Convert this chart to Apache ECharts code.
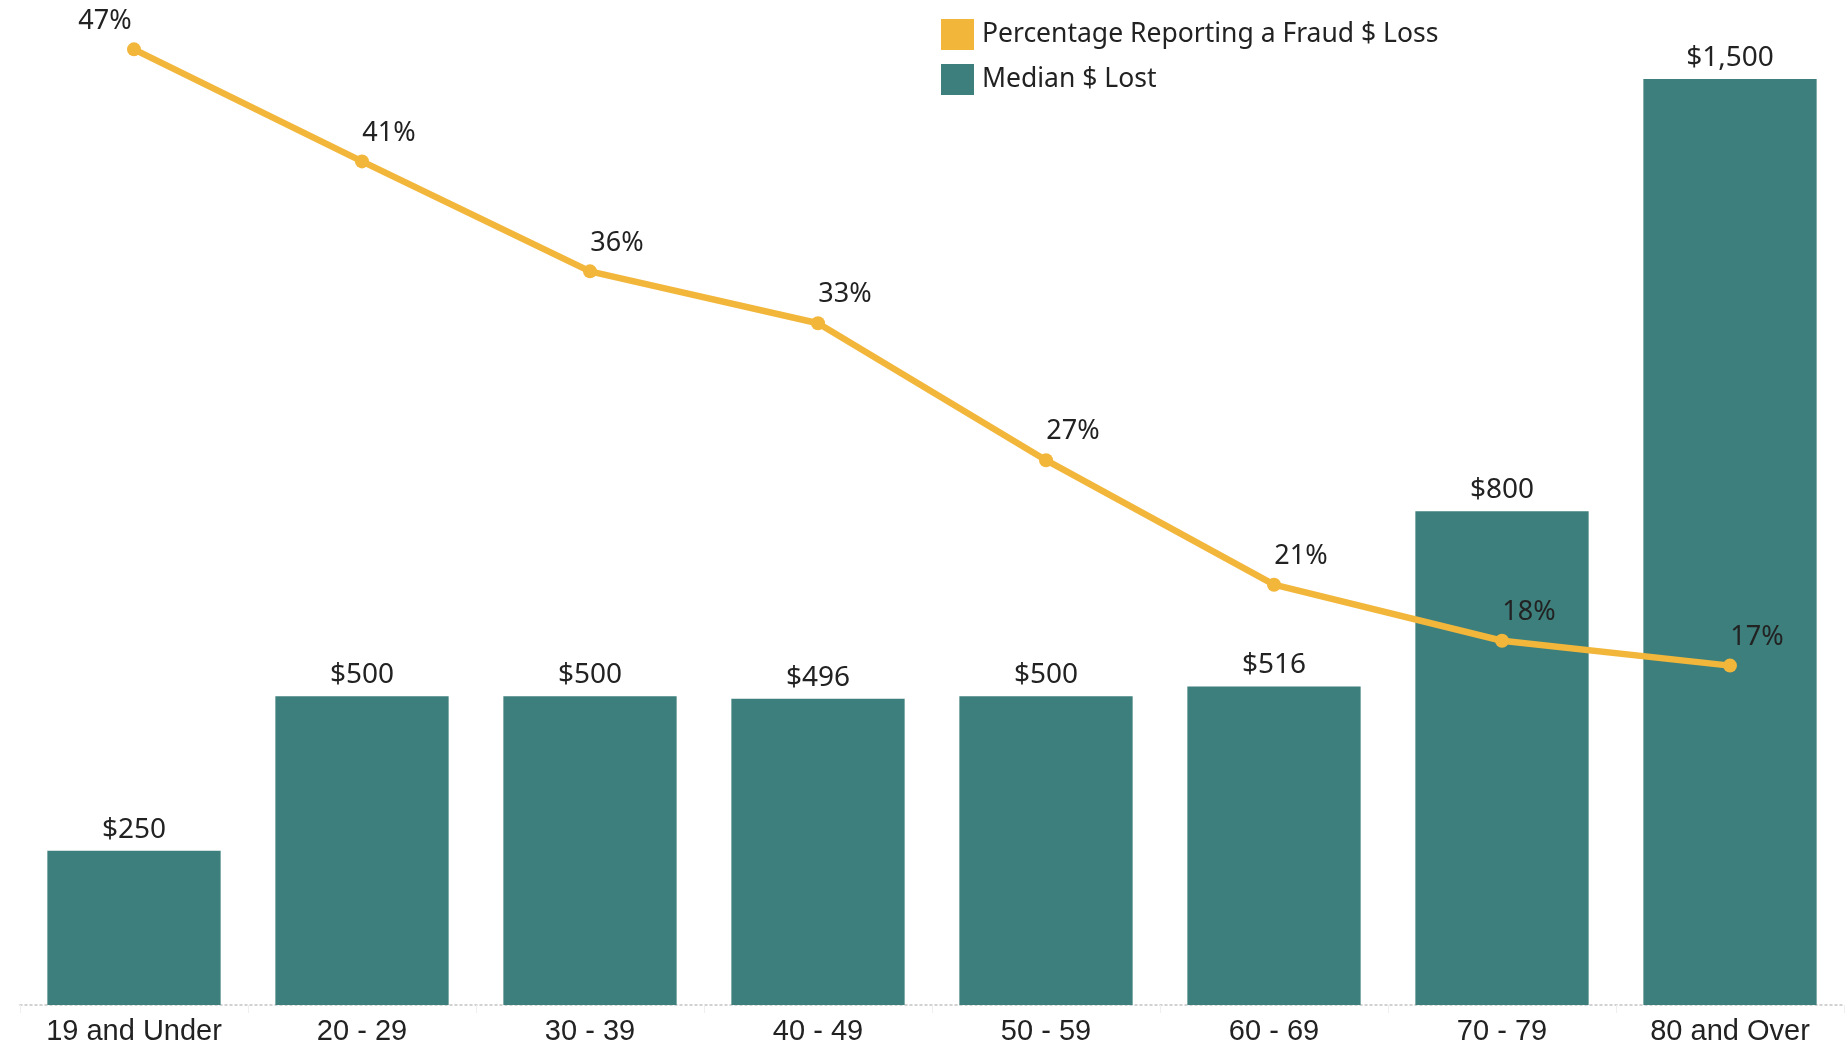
<!DOCTYPE html>
<html>
<head>
<meta charset="utf-8">
<script src="https://cdn.jsdelivr.net/npm/echarts@6/dist/echarts.min.js"></script>
<style>
  html, body { margin: 0; padding: 0; background: #fff; }
  #chart { width: 1845px; height: 1046px; }
</style>
</head>
<body>
<div id="chart"></div>
<script>
// data (percentages estimated from point heights, labels rounded)
const ageGroups = ['19 and Under', '20 - 29', '30 - 39', '40 - 49', '50 - 59', '60 - 69', '70 - 79', '80 and Over'];
const medianLost = [250, 500, 500, 496, 500, 516, 800, 1500];
const pctReporting = [46.6, 41.2, 35.9, 33.4, 26.8, 20.8, 18.1, 16.9];

const TEAL = '#3d7f7c';
const GOLD = '#f2b63b';
const TEXT = '#222';
const FONT = '"Noto Sans", "Liberation Sans", sans-serif';

const chart = echarts.init(document.getElementById('chart'));

// first label sits to the left of its point, the rest to the right
const lineData = pctReporting.map((v, i) => i === 0
  ? { value: v, label: { offset: [-29, 0] } }
  : v);

chart.setOption({
  animation: false,
  textStyle: { fontFamily: FONT },
  legend: {
    orient: 'vertical',
    left: 936,
    top: 14,
    itemWidth: 33,
    itemHeight: 31,
    itemGap: 14,
    icon: 'rect',
    textStyle: { fontSize: 26.5, color: TEXT, fontFamily: FONT, padding: [0, 0, 0, 3] },
    data: ['Percentage Reporting a Fraud $ Loss', 'Median $ Lost']
  },
  grid: { left: 20, right: 1, top: 79, bottom: 41, containLabel: false },
  xAxis: {
    type: 'category',
    data: ageGroups,
    axisLine: { lineStyle: { color: '#c4c4c4', width: 1.5, type: [2, 3] } },
    axisTick: { show: true, length: 8, lineStyle: { color: '#efefef' } },
    axisLabel: {
      interval: 0,
      fontFamily: '"Liberation Sans", sans-serif',
      fontSize: 29,
      color: TEXT,
      margin: 12
    }
  },
  yAxis: [
    { type: 'value', min: 0, max: 1500, show: false },
    { type: 'value', min: 0.545, max: 45.17, show: false }
  ],
  series: [
    {
      name: 'Median $ Lost',
      type: 'bar',
      data: medianLost,
      barWidth: '76%',
      itemStyle: { color: TEAL },
      label: {
        show: true,
        position: 'top',
        distance: 7,
        fontSize: 28,
        color: TEXT,
        fontFamily: FONT,
        formatter: p => '$' + p.value.toLocaleString('en-US')
      },
      z: 1
    },
    {
      name: 'Percentage Reporting a Fraud $ Loss',
      type: 'line',
      yAxisIndex: 1,
      data: lineData,
      clip: false,
      symbol: 'circle',
      symbolSize: 14,
      lineStyle: { color: GOLD, width: 6.5 },
      itemStyle: { color: GOLD },
      label: {
        show: true,
        position: 'top',
        distance: 8,
        offset: [27, 0],
        fontSize: 27,
        color: TEXT,
        fontFamily: FONT,
        formatter: p => Math.round(p.value) + '%'
      },
      z: 3
    }
  ]
});
</script>
</body>
</html>
